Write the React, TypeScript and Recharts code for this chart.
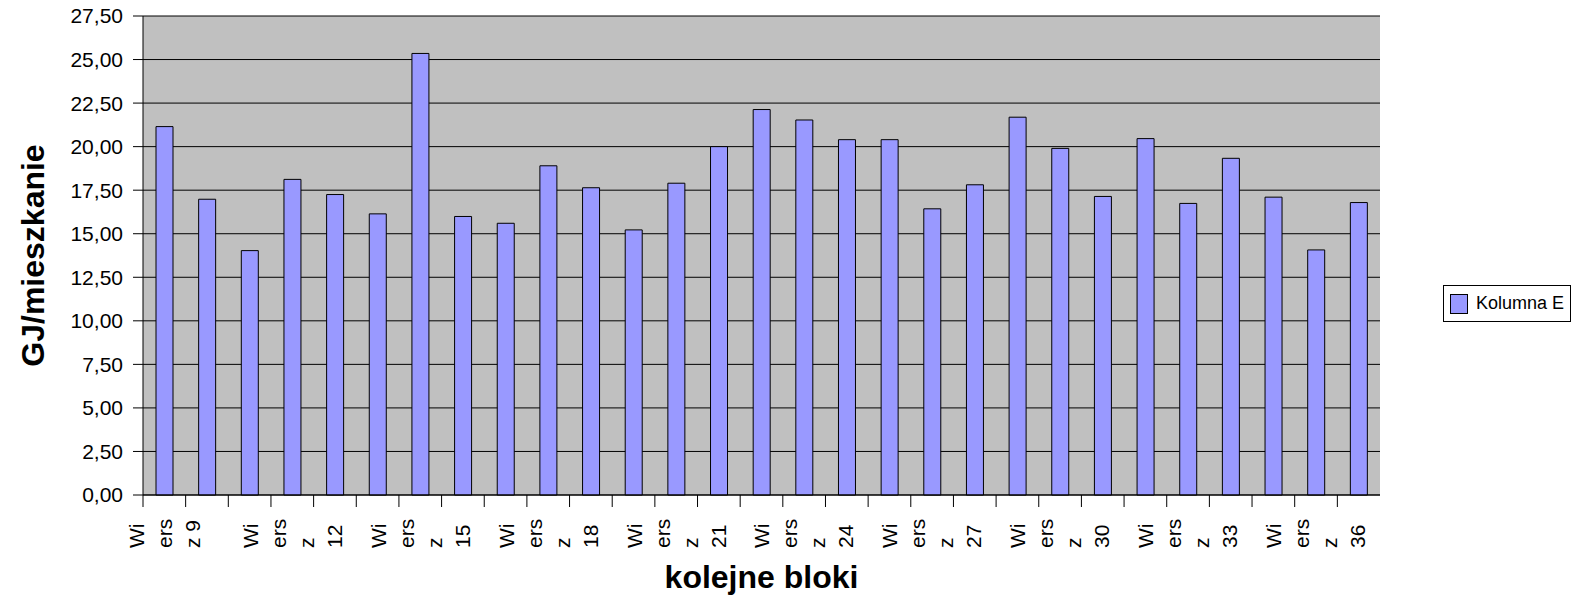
import React from 'react';
import { BarChart, Bar, XAxis, YAxis, CartesianGrid, Legend, Label } from 'recharts';

const FONT = '"Liberation Sans", Arial, sans-serif';

const categories = [
  'Wiersz 9', 'Wiersz 10', 'Wiersz 11', 'Wiersz 12', 'Wiersz 13', 'Wiersz 14',
  'Wiersz 15', 'Wiersz 16', 'Wiersz 17', 'Wiersz 18', 'Wiersz 19', 'Wiersz 20',
  'Wiersz 21', 'Wiersz 22', 'Wiersz 23', 'Wiersz 24', 'Wiersz 25', 'Wiersz 26',
  'Wiersz 27', 'Wiersz 28', 'Wiersz 29', 'Wiersz 30', 'Wiersz 31', 'Wiersz 32',
  'Wiersz 33', 'Wiersz 34', 'Wiersz 35', 'Wiersz 36', 'Wiersz 37'
];

const kolumnaE = [
  21.15, 16.98, 14.03, 18.12, 17.25, 16.14, 25.35, 15.99, 15.6, 18.9,
  17.64, 15.22, 17.9, 20.0, 22.13, 21.53, 20.4, 20.4, 16.43, 17.81,
  21.69, 19.9, 17.14, 20.46, 16.74, 19.33, 17.1, 14.07, 16.79
];

const yTicks = [0, 2.5, 5, 7.5, 10, 12.5, 15, 17.5, 20, 22.5, 25, 27.5];

const data = categories.map((name, i) => ({ name, value: kolumnaE[i] }));

// plot box
const PLOT_LEFT = 143;
const PLOT_RIGHT = 1380;
const BAND = (PLOT_RIGHT - PLOT_LEFT) / categories.length;

// Excel wrapped the long names into narrow lines
const wrapLabel = (name: string) => {
  const num = name.split(' ')[1];
  return num.length === 1 ? ['Wi', 'ers', 'z ' + num] : ['Wi', 'ers', 'z', num];
};

const CategoryTick = (props: any) => {
  const { x, y, payload, index } = props;
  const left = x - BAND / 2;
  const lines = index % 3 === 0 ? wrapLabel(String(payload.value)) : [];
  const gap = 28;
  const baseY = y + 53;
  return (
    <g>
      <line x1={left} y1={y} x2={left} y2={y + 12} stroke="#000" strokeWidth={1} />
      {lines.map((line, i) => {
        const lx = x + (i - (lines.length - 1) / 2) * gap;
        return (
          <text
            key={i}
            x={lx}
            y={baseY}
            dy="0.35em"
            transform={`rotate(-90, ${lx}, ${baseY})`}
            textAnchor="start"
            fontFamily={FONT}
            fontSize={21}
            fill="#000"
          >
            {line}
          </text>
        );
      })}
    </g>
  );
};

const LegendBox = (props: any) => {
  const { payload } = props;
  return (
    <div>
      {(payload || []).map((entry: any) => (
        <div
          key={entry.value}
          style={{
            border: '1px solid #000',
            background: '#fff',
            width: 126,
            height: 35,
            display: 'flex',
            alignItems: 'center',
            fontFamily: FONT,
            fontSize: 18,
            color: '#000'
          }}
        >
          <span
            style={{
              display: 'inline-block',
              width: 16,
              height: 18,
              background: entry.color,
              border: '1px solid #000',
              marginLeft: 6,
              marginRight: 8
            }}
          />
          {entry.value}
        </div>
      ))}
    </div>
  );
};

const App = () => {
  return (
    <div style={{ position: 'absolute', left: 0, top: 0, width: 1573, height: 604, background: '#fff' }}>
      <BarChart
        width={1573}
        height={604}
        data={data}
        margin={{ top: 16, right: 1573 - PLOT_RIGHT, bottom: 0, left: 0 }}
        barSize={17}
      >
        <CartesianGrid vertical={false} stroke="#000" fill="#C0C0C0" fillOpacity={1} />
        <XAxis
          dataKey="name"
          interval={0}
          height={109}
          tickSize={0}
          tickMargin={0}
          tickLine={false}
          axisLine={{ stroke: '#000' }}
          tick={<CategoryTick />}
        >
          <Label
            value="kolejne bloki"
            position="insideBottom"
            offset={16}
            style={{ fontFamily: FONT, fontSize: 32, fontWeight: 'bold', fill: '#000' }}
          />
        </XAxis>
        <YAxis
          width={PLOT_LEFT}
          domain={[0, 27.5]}
          ticks={yTicks}
          interval={0}
          tickSize={10}
          tickMargin={10}
          tickFormatter={(v: number) => v.toFixed(2).replace('.', ',')}
          tick={{ fill: '#000', fontSize: 21, fontFamily: FONT }}
          tickLine={{ stroke: '#000' }}
          axisLine={{ stroke: '#000' }}
        >
          <Label
            content={(p: any) => {
              const vb = p.viewBox || { x: 0, y: 16, width: 143, height: 479 };
              const cx = vb.x + 44;
              const cy = vb.y + vb.height / 2;
              return (
                <text
                  x={cx}
                  y={cy}
                  transform={`rotate(-90, ${cx}, ${cy})`}
                  textAnchor="middle"
                  fontFamily={FONT}
                  fontSize={32}
                  fontWeight="bold"
                  fill="#000"
                >
                  GJ/mieszkanie
                </text>
              );
            }}
          />
        </YAxis>
        <YAxis
          yAxisId="frame"
          orientation="right"
          width={0}
          domain={[0, 27.5]}
          tick={false}
          tickLine={false}
          axisLine={{ stroke: '#808080', strokeWidth: 2 }}
        />
        <Legend
          layout="horizontal"
          align="center"
          verticalAlign="middle"
          content={<LegendBox />}
          wrapperStyle={{ left: 1443, top: 285, width: 128 }}
        />
        <Bar
          dataKey="value"
          name="Kolumna E"
          fill="#9999FF"
          stroke="#000"
          strokeWidth={1}
          isAnimationActive={false}
        />
      </BarChart>
    </div>
  );
};

export default App;
